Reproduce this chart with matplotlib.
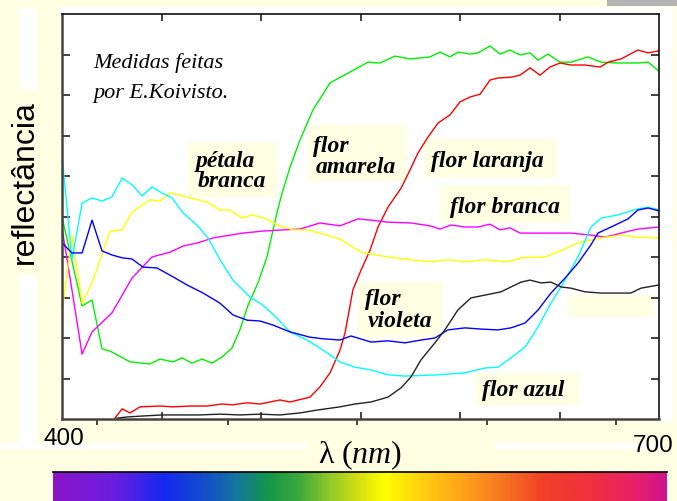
import numpy as np
import matplotlib
matplotlib.use("Agg")
import matplotlib.pyplot as plt
from matplotlib.patches import Rectangle
from matplotlib.colors import LinearSegmentedColormap

W, H = 677, 501
BG = '#FFFFE4'

# reflectance spectra, wavelength in nm, reflectance in arbitrary units (0-100)
amarela_nm = [400, 410.1, 415.1, 420.1, 424.1, 434.2, 444.2, 449.2, 455.8, 460.3, 465.3, 470.4,
              475.4, 480.4, 485.4, 489.4, 493.5, 498.5, 503.0, 508.0, 510.6, 514.6, 519.6, 526.1,
              534.7, 543.7, 553.8, 559.8, 567.3, 574.9, 584.9, 590.0, 595.0, 599.0, 605.0, 609.0,
              615.1, 620.1, 625.1, 630.2, 635.2, 639.2, 644.2, 650.3, 655.8, 664.3, 670.9, 679.4,
              689.4, 694.5, 700]
amarela_r = [49.9, 27.9, 29.4, 17.3, 16.8, 14.1, 13.6, 14.8, 14.1, 15.1, 13.8, 14.8,
             13.8, 15.3, 17.5, 22.0, 28.1, 33.6, 40.0, 50.9, 55.8, 62.2, 68.9, 76.3,
             83.0, 85.4, 88.1, 87.9, 89.6, 88.9, 89.4, 90.6, 89.4, 90.6, 90.1, 90.4,
             92.1, 90.1, 91.1, 89.9, 90.4, 88.6, 90.1, 88.1, 88.1, 89.4, 88.1, 87.9,
             87.9, 88.1, 85.9]

laranja_nm = [426.6, 430.2, 434.2, 439.2, 449.2, 455.8, 464.3, 472.9, 480.4, 485.9, 493.0, 499.5,
              509.5, 514.6, 524.6, 529.6, 534.7, 539.7, 542.2, 546.2, 550.3, 554.8, 558.8, 563.8,
              570.4, 574.9, 578.9, 583.9, 589.0, 595.0, 600.0, 605.0, 610.1, 615.1, 619.1, 625.6,
              630.2, 635.2, 640.2, 645.2, 650.3, 655.8, 662.8, 670.4, 674.4, 680.9, 689.4, 694.5, 700]
laranja_r = [0.2, 2.5, 1.5, 3.0, 3.2, 3.0, 3.2, 3.2, 3.7, 3.5, 4.0, 3.7,
             4.7, 4.2, 5.4, 7.9, 11.4, 17.0, 21.2, 31.9, 36.8, 41.7, 47.4, 52.3,
             57.0, 61.5, 65.7, 69.6, 73.1, 75.1, 78.3, 79.5, 80.2, 83.7, 84.2, 84.4,
             84.9, 86.7, 84.9, 86.9, 87.9, 87.4, 87.4, 86.9, 88.1, 88.9, 91.1, 90.4, 90.9]

branca_nm = [400, 405.0, 410.1, 415.1, 425.1, 435.2, 445.2, 454.3, 460.8, 468.3, 475.9, 484.4,
             490.9, 501.0, 511.1, 519.6, 529.6, 539.7, 548.7, 555.3, 563.8, 575.4, 584.9, 590.0,
             595.5, 602.5, 609.0, 615.1, 620.1, 625.1, 630.2, 639.2, 647.7, 655.8, 665.8, 672.9,
             680.9, 689.4, 700]
branca_r = [47.2, 31.9, 16.0, 21.5, 26.2, 34.8, 40.0, 41.2, 42.7, 43.5, 44.7, 45.4,
            45.9, 46.4, 46.7, 46.9, 48.4, 47.7, 49.4, 49.1, 48.6, 48.4, 47.7, 46.9,
            47.9, 47.4, 47.4, 48.1, 46.7, 47.2, 45.9, 45.9, 45.9, 45.9, 45.4, 44.9,
            45.9, 46.9, 47.4]

petala_nm = [400, 405.0, 410.1, 415.1, 424.1, 430.2, 435.2, 444.2, 449.2, 454.3, 459.3, 464.3,
             472.9, 479.4, 484.4, 490.5, 495.5, 503.0, 508.0, 516.1, 523.1, 529.6, 539.7, 550.3,
             563.8, 575.4, 585.4, 594.0, 602.5, 612.6, 624.1, 630.7, 642.7, 652.8, 659.3, 670.9,
             680.9, 689.4, 700]
petala_r = [26.2, 45.4, 28.6, 33.6, 46.4, 46.7, 51.1, 54.1, 53.8, 55.8, 55.3, 54.6,
            53.6, 51.6, 51.6, 49.6, 50.4, 49.4, 47.9, 46.7, 46.7, 45.9, 44.4, 41.2,
            40.0, 39.3, 38.8, 39.3, 38.8, 39.3, 38.8, 39.8, 40.0, 42.0, 43.5, 44.7,
            45.4, 44.9, 44.7]

azul_nm = [400, 405.0, 410.1, 415.1, 420.1, 425.1, 430.2, 435.2, 440.2, 445.2, 450.3, 455.3,
           460.8, 467.8, 473.4, 479.4, 485.9, 494.5, 501.0, 508.0, 514.6, 523.1, 531.2, 539.7,
           547.2, 555.3, 563.8, 572.4, 588.9, 602.5, 612.6, 619.1, 625.6, 632.7, 639.2, 645.7,
           652.8, 659.3, 665.8, 670.9, 679.4, 689.4, 694.5, 700]
azul_r = [65.2, 39.3, 53.3, 54.6, 53.8, 54.8, 59.5, 57.8, 55.1, 57.3, 55.8, 54.6,
          50.9, 47.9, 44.7, 39.3, 34.3, 30.1, 28.1, 24.9, 21.5, 19.5, 17.0, 14.1,
          12.8, 12.1, 10.9, 10.6, 10.9, 11.4, 12.6, 12.8, 15.1, 17.8, 22.7, 28.6,
          34.3, 40.0, 47.4, 49.6, 50.4, 51.9, 52.3, 51.6]

violeta_nm = [400, 405.0, 410.1, 415.1, 420.1, 425.1, 430.2, 435.2, 440.7, 447.7, 455.8, 462.8,
              470.9, 479.4, 485.9, 493.0, 499.5, 506.0, 514.6, 524.6, 531.2, 539.7, 545.2, 555.3,
              563.8, 572.4, 580.4, 587.4, 593.9, 602.5, 610.6, 619.1, 625.6, 632.7, 639.2, 645.7,
              652.8, 659.3, 665.8, 669.3, 675.9, 684.4, 689.4, 694.5, 700]
violeta_r = [43.5, 41.0, 41.0, 49.1, 41.5, 40.5, 39.8, 39.5, 37.5, 37.3, 35.1, 33.1,
             31.1, 28.6, 25.7, 24.4, 24.2, 23.2, 21.5, 20.2, 19.8, 19.5, 20.5, 19.0,
             19.3, 18.8, 19.5, 20.0, 22.0, 22.5, 22.2, 22.0, 22.5, 23.7, 26.9, 31.1,
             34.8, 38.5, 43.0, 45.9, 47.4, 49.4, 51.6, 52.1, 51.4]

preta_nm = [427.6, 432.7, 439.2, 450.3, 459.3, 469.3, 479.4, 489.4, 499.5, 509.5, 519.6, 528.1,
            539.7, 547.2, 555.3, 563.8, 570.4, 575.4, 580.4, 587.4, 592.4, 598.9, 605.5, 612.6,
            620.6, 625.6, 630.7, 635.2, 640.7, 645.7, 650.8, 655.8, 662.8, 670.9, 679.4, 685.9,
            690.9, 700]
preta_r = [0.2, 0.5, 0.7, 1.0, 1.0, 1.0, 1.2, 1.0, 1.2, 1.0, 1.5, 2.2,
           3.0, 3.7, 4.2, 5.4, 7.7, 10.4, 14.6, 18.8, 22.0, 26.9, 29.9, 30.6,
           31.4, 32.6, 33.8, 34.3, 33.6, 33.8, 32.6, 32.3, 31.4, 31.1, 31.1, 31.1,
           32.3, 33.1]

y_ticks = [10, 20, 30, 40, 50, 60, 70, 80, 90]
x_ticks = [450, 500, 550, 600, 650]
x_ticks_out = [417.6, 483.4, 548.2, 613.6, 678.4]

spectrum_colors = ['#8A14C8', '#6A1EE0', '#1428F0', '#1450C8', '#14789C', '#14964A', '#3CA83C',
                   '#90C828', '#D8E010', '#FFFF00', '#FFD010', '#FFA818', '#F88020', '#F04028',
                   '#F03040', '#E8206A', '#D0148C']
spectrum_pos = [0.0, 0.1, 0.18, 0.25, 0.3, 0.35, 0.4, 0.45, 0.5, 0.54, 0.6, 0.66, 0.72, 0.8,
                0.88, 0.95, 1.0]


def fig_xy(x, y):
    return x / W, 1 - y / H


def fig_rect(fig, x0, y0, x1, y1, color):
    fx, fy = fig_xy(x0, y1)
    fig.add_artist(Rectangle((fx, fy), (x1 - x0) / W, (y1 - y0) / H, fc=color, ec='none', zorder=-1))


fig = plt.figure(figsize=(W / 100, H / 100), dpi=100, facecolor=BG)

# white strips around the plot
fig_rect(fig, 60, 7, 673, 14, 'white')
fig_rect(fig, 659, 7, 673, 422, 'white')
fig_rect(fig, 20, 8, 37, 90, 'white')
fig_rect(fig, 20, 275, 37, 449, 'white')
fig_rect(fig, 0, 443, 307, 449, 'white')
fig_rect(fig, 494, 443, 660, 449, 'white')
fig_rect(fig, 607, 0, 677, 6, '#B4B4B4')

ax = fig.add_axes([62 / W, 1 - 419 / H, 597 / W, 405 / H])
ax.set_facecolor('white')

curves = [
    (amarela_nm, amarela_r, '#00F000'),
    (laranja_nm, laranja_r, '#FF0000'),
    (branca_nm, branca_r, '#FF00FF'),
    (petala_nm, petala_r, '#FFFF00'),
    (azul_nm, azul_r, '#00FFFF'),
    (violeta_nm, violeta_r, '#0000FF'),
    (preta_nm, preta_r, '#222222'),
]
for nm, r, c in curves:
    ax.plot(nm, r, color=c, lw=1.0, zorder=2)

ax.set_xlim(400, 700)
ax.set_ylim(0, 100)
ax.set_xticks(x_ticks)
ax.set_xticks(x_ticks_out, minor=True)
ax.set_yticks(y_ticks)
ax.set_xticklabels([])
ax.set_yticklabels([])
ax.tick_params(which='major', direction='in', length=5, width=1.3, color='#333333',
               top=True, bottom=True, left=True, right=True)
ax.tick_params(axis='y', which='major', length=5.5)
ax.tick_params(which='minor', direction='out', length=4, width=1.3, color='#333333',
               top=False, bottom=True)
for side in ['top', 'right']:
    ax.spines[side].set_linewidth(1.2)
    ax.spines[side].set_color('#111111')
for side in ['left', 'bottom']:
    ax.spines[side].set_linewidth(1.8)
    ax.spines[side].set_color('#444444')

# label boxes (nm, reflectance, width, height), drawn under the curves
boxes = [(463.3, 54.8, 44.7, 13.6), (523.6, 58.8, 49.8, 13.8), (581.9, 59.5, 66.8, 9.6),
         (589.9, 48.4, 65.4, 9.4), (548.7, 20.2, 42.8, 13.6), (608.0, 3.5, 51.8, 7.9),
         (654.3, 25.2, 43.2, 5.4)]
for x0, y0, w, h in boxes:
    ax.add_patch(Rectangle((x0, y0), w, h, fc=BG, ec='none', zorder=1.5))

labels = [('pétala', 467.3, 62.2), ('branca', 468.3, 57.3),
          ('flor', 526.1, 65.9), ('amarela', 527.6, 60.7),
          ('flor laranja', 585.4, 62.2), ('flor branca', 595.0, 50.9),
          ('flor', 552.3, 28.1), ('violeta', 553.8, 22.7),
          ('flor azul', 611.1, 5.7)]
for s, x, y in labels:
    ax.text(x, y, s, family='Liberation Serif', style='italic', weight='bold',
            fontsize=17, ha='left', va='baseline', zorder=4)

note_font = dict(family='Liberation Serif', style='italic', fontsize=16, ha='left', va='baseline')
fig.text(*fig_xy(93, 68), 'Medidas feitas', **note_font)
fig.text(*fig_xy(93, 98), 'por E.Koivisto.', **note_font)

fig.text(*fig_xy(25, 182), 'reflectância', family='Liberation Sans', fontsize=23,
         rotation=90, ha='center', va='center')
fig.text(*fig_xy(43, 445), '400', family='Liberation Sans', fontsize=17.5, ha='left', va='baseline')
fig.text(*fig_xy(673, 452), '700', family='Liberation Sans', fontsize=17.5, ha='right', va='baseline')

plt.rcParams['mathtext.fontset'] = 'custom'
plt.rcParams['mathtext.rm'] = 'Liberation Serif'
plt.rcParams['mathtext.it'] = 'Liberation Serif:italic'
fig.text(*fig_xy(360, 463), r'$\mathrm{\lambda}\ (\mathit{nm})$', fontsize=23,
         ha='center', va='baseline')

# visible spectrum strip
spec = fig.add_axes([53 / W, 0, 614 / W, 29 / H])
cmap = LinearSegmentedColormap.from_list('spectrum', list(zip(spectrum_pos, spectrum_colors)))
spec.imshow(np.linspace(0, 1, 512)[None, :], aspect='auto', cmap=cmap, extent=(0, 1, 0, 1))
spec.set_xticks([])
spec.set_yticks([])
for side in ['left', 'right', 'bottom']:
    spec.spines[side].set_visible(False)
spec.spines['top'].set_linewidth(1.2)
spec.spines['top'].set_color('black')

fig.savefig('out.png', dpi=100, facecolor=BG)
